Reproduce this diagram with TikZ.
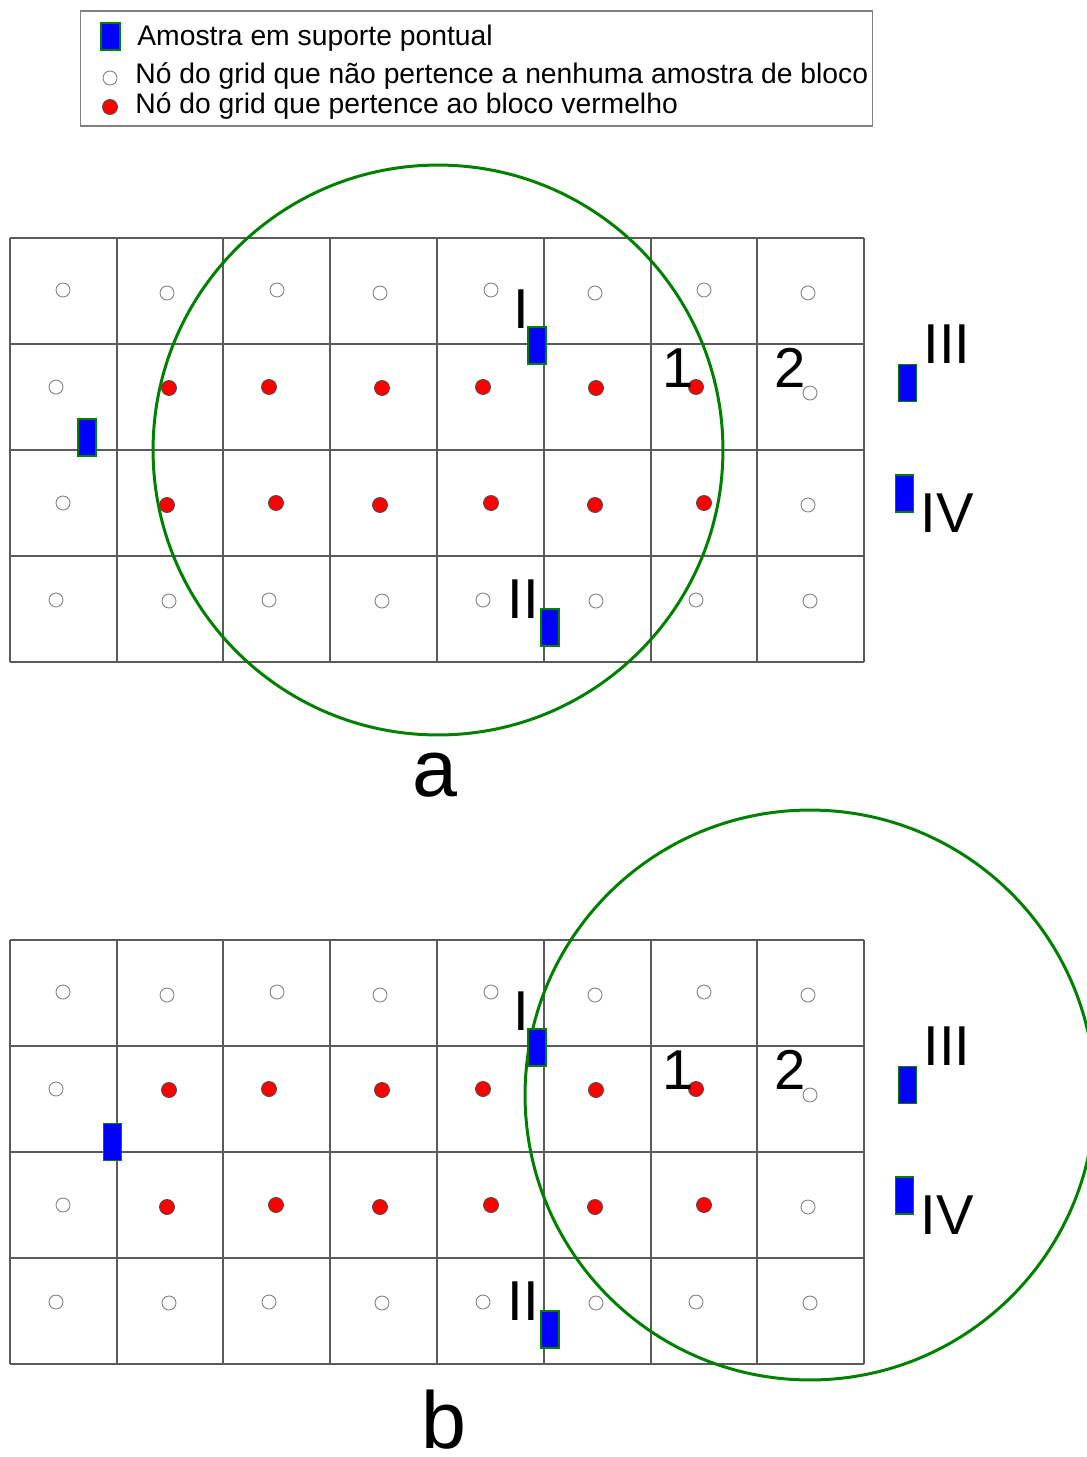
\documentclass[tikz,border=0pt]{standalone}
\usepackage{fontspec}
\setmainfont{Liberation Sans}
\usetikzlibrary{positioning}
\definecolor{ringgreen}{RGB}{0,128,0}
\definecolor{sampleblue}{RGB}{0,0,255}
\definecolor{gridgray}{RGB}{90,90,90}

\begin{document}
\begin{tikzpicture}[
    x=0.02cm, y=-0.02cm,
    gridline/.style={draw=gridgray,line width=0.6pt},
    ring/.style={draw=ringgreen,line width=1.7pt,circle,minimum size=11.4cm,inner sep=0pt},
    sample/.style={draw=ringgreen,line width=0.8pt,fill=sampleblue,minimum width=0.36cm,minimum height=0.74cm,inner sep=0pt},
    opennode/.style={draw=gray,line width=0.5pt,fill=white,circle,minimum size=0.28cm,inner sep=0pt},
    rednode/.style={draw=black!70,line width=0.5pt,fill=red,circle,minimum size=0.3cm,inner sep=0pt},
    roman/.style={font=\fontsize{32}{38}\selectfont,anchor=base,inner sep=0pt},
    panel/.style={font=\fontsize{46}{52}\selectfont,anchor=base,inner sep=0pt},
    legendtext/.style={font=\fontsize{16.1}{19}\selectfont,anchor=base west,inner sep=0pt}
  ]
  \useasboundingbox (0,0) rectangle (1086,1457);

  % legend
  \node[draw=gray,line width=0.6pt,minimum width=15.86cm,minimum height=2.3cm,inner sep=0pt] (legend) at (476.5,68.5) {};
  \node[sample,minimum width=0.38cm,minimum height=0.54cm] (keysample) at (110.5,36.5) {};
  \node[opennode] (keyopen) at (110,78) {};
  \node[rednode] (keyred) at (110,107) {};
  \node[legendtext] (txtsample) at (137,45) {Amostra em suporte pontual};
  \node[legendtext] (txtopen) at (135,83) {Nó do grid que não pertence a nenhuma amostra de bloco};
  \node[legendtext] (txtred) at (135,113) {Nó do grid que pertence ao bloco vermelho};

  % panels a and b
  \foreach \p/\dy/\cx/\cy/\lx/\ly/\tx/\ty in {a/0/438/450/87/437.5/434.5/796, b/702/810/393/112.5/440/443.5/746}{
    \begin{scope}[shift={(0,\dy)}]
      \foreach \gx in {10,117,223,330,437,544,651,757,864}
        \draw[gridline] (\gx,238) -- (\gx,662);
      \foreach \gy in {238,344,450,556,662}
        \draw[gridline] (10,\gy) -- (864,\gy);
      \node[ring] (\p-ring) at (\cx,\cy) {};
      \foreach \x/\y [count=\i] in {63/290,167/293,277/290,380/293,491/290,595/293,704/290,808/293,
          56/387,810/393,63/503,808/505,
          56/600,169/601,269/600,382/601,483/600,596/601,696/600,810/601}
        \node[opennode] (\p-open\i) at (\x,\y) {};
      \foreach \x/\y [count=\i] in {169/388,269/387,382/388,483/387,596/388,696/387,
          167/505,276/503,380/505,491/503,595/505,704/503}
        \node[rednode] (\p-red\i) at (\x,\y) {};
      \node[sample] (\p-sI) at (537,345.5) {};
      \node[sample] (\p-sII) at (550,627.5) {};
      \node[sample] (\p-sIII) at (907.5,383) {};
      \node[sample] (\p-sIV) at (904.5,493.5) {};
      \node[sample] (\p-sleft) at (\lx,\ly) {};
      \node[roman] (\p-lI) at (521.5,328) {I};
      \node[roman] (\p-lII) at (523,618) {II};
      \node[roman] (\p-lIII) at (947,363) {III};
      \node[roman] (\p-lIV) at (947,532) {IV};
      \node[roman] (\p-one) at (678,387) {1};
      \node[roman] (\p-two) at (790,387) {2};
      \node[panel] (\p-name) at (\tx,\ty) {\p};
    \end{scope}
  }
\end{tikzpicture}
\end{document}
